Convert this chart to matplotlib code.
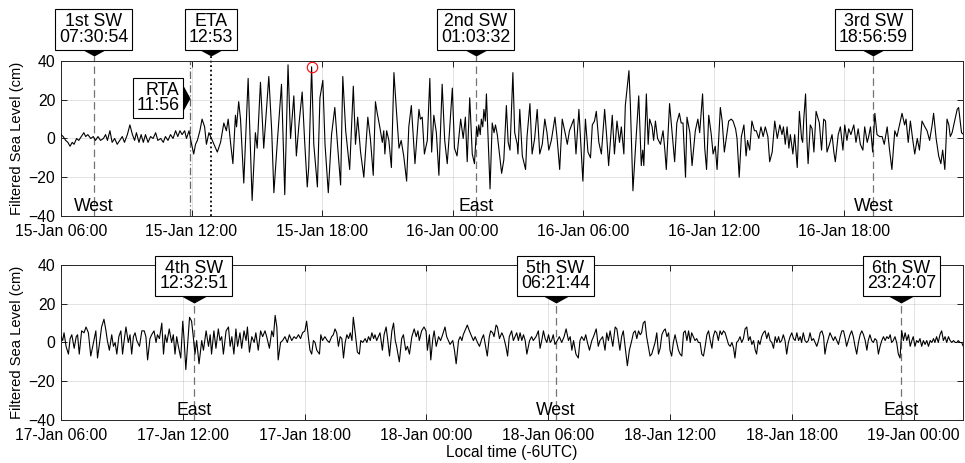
import numpy as np
import matplotlib.pyplot as plt
import matplotlib.dates as mdates
import matplotlib.transforms as mtransforms

plt.rcParams['font.family'] = ['Liberation Sans', 'DejaVu Sans']

# ---------------------------------------------------------------
# filtered sea level: (minutes after panel start, cm)
# ---------------------------------------------------------------
top_start = np.datetime64('2022-01-15T06:00')
top_span_min = 2487
top_obs = [
    (0, 2), (6, 1), (13, -1), (19, -2), (25, -4), (31, -2), (36, -3), (43, 0), (49, -1), (56, 1),
    (63, 3), (68, 1), (74, 2), (82, 0), (89, 1), (95, -1), (102, 1), (109, -1), (117, 0), (123, 2),
    (128, -1), (135, 4), (141, -2), (148, 0), (155, -3), (162, -1), (169, 1), (175, -2), (183, 2), (190, 7),
    (197, 2), (203, -1), (208, 3), (215, -2), (221, 2), (227, -2), (233, 2), (240, -2), (247, 1), (254, 0),
    (261, 3), (267, -1), (275, 0), (282, -2), (288, 1), (295, -1), (302, 2), (309, 0), (316, 4), (322, 1),
    (328, 4), (334, 2), (341, 4), (346, 0), (353, 4), (359, -2), (366, -8), (371, -3), (376, -1), (383, 4),
    (389, 10), (396, 6), (401, -3), (408, 3), (415, 0), (422, -3), (431, -7), (440, -2), (449, 8), (456, 4),
    (461, 10), (468, -3), (474, -13), (481, 12), (484, 6), (490, 19), (495, 10), (504, -23), (516, 31), (527, -32),
    (536, 3), (541, -5), (550, 29), (559, -5), (564, 8), (573, 32), (581, 4), (587, -28), (596, -3), (608, 28),
    (617, -29), (626, 38), (633, 0), (642, 22), (649, -9), (656, 7), (665, 24), (672, -2), (679, -25), (683, -15),
    (691, 37), (697, -3), (707, -25), (714, 21), (722, 30), (728, -3), (737, -28), (746, 2), (755, 16), (762, -2),
    (771, -24), (777, 32), (785, 4), (796, -16), (806, 27), (812, -3), (818, 11), (826, -7), (835, -20), (846, 11),
    (853, 0), (861, -19), (867, 19), (872, 13), (879, 6), (886, -2), (890, 4), (893, -8), (898, 4), (904, -1),
    (911, -15), (918, 34), (925, 14), (932, -5), (938, -1), (945, -9), (953, -22), (959, 6), (966, 17), (976, -13),
    (987, 15), (991, 10), (996, 11), (1002, -8), (1010, -1), (1017, 31), (1022, -7), (1028, 12), (1035, 3), (1042, -19),
    (1051, 28), (1058, -1), (1065, -13), (1071, 3), (1079, 26), (1085, -5), (1092, -9), (1102, 10), (1109, 0), (1115, 11),
    (1120, -12), (1127, 21), (1134, -8), (1140, -13), (1146, 6), (1149, 1), (1152, 7), (1156, 2), (1159, 10), (1163, 6),
    (1166, 15), (1170, 9), (1173, 23), (1183, -26),
    (1189, 8), (1194, 3), (1198, 7), (1203, 2), (1215, -18), (1221, -11), (1228, 17), (1233, -2), (1238, -6), (1246, 34),
    (1251, 3), (1258, -3), (1260, -8), (1265, 15), (1272, -9), (1281, -16), (1285, 1), (1293, 18), (1299, -8), (1306, 0),
    (1313, 15), (1320, -8), (1327, -3), (1334, 10), (1340, 3), (1345, -6), (1352, -1), (1362, 11), (1368, 0), (1375, -16),
    (1382, 10), (1391, 2), (1396, -3), (1402, 4), (1414, 10), (1420, -8), (1428, 15), (1433, -2), (1439, -22), (1446, 10),
    (1453, -7), (1460, -10), (1465, 7), (1471, 9), (1476, 14), (1483, -2), (1490, -8), (1499, 15), (1505, 0), (1510, -14),
    (1520, 12), (1526, -8), (1533, 9), (1540, -2), (1545, 6), (1552, -8), (1556, 17), (1566, 35), (1570, 17), (1577, -27),
    (1584, -5), (1593, 22), (1600, -14), (1604, -6), (1607, -14), (1611, 8), (1614, 23), (1619, -3), (1623, 10), (1630, 6),
    (1634, -1), (1639, 9), (1645, 0), (1653, -3), (1660, 4), (1665, -6), (1669, -16), (1678, 18), (1685, 3), (1692, -12),
    (1698, 8), (1705, 13), (1710, 8), (1715, 8), (1722, -20), (1726, 11), (1734, 3), (1740, -14), (1749, 4), (1756, 10),
    (1761, 3), (1769, 23), (1775, -5), (1780, -16), (1786, 12), (1793, 2), (1798, -8), (1804, -4), (1809, -16), (1818, 16),
    (1823, 9), (1829, -7), (1835, 1), (1841, 9), (1848, 10), (1853, 9), (1860, 5), (1864, 0), (1870, -20), (1876, 1),
    (1883, 7), (1889, -9), (1893, -1), (1899, -6), (1905, 9), (1912, 4), (1917, 4), (1924, 0), (1930, 6), (1936, 1),
    (1942, 6), (1949, 1), (1954, -12), (1961, -7), (1968, 9), (1975, 0), (1982, 7), (1988, 2), (1992, 6), (1997, -3),
    (2002, 6), (2007, -5), (2011, 2), (2018, -8), (2023, 2), (2030, -15), (2036, 14), (2042, 0), (2045, -2), (2048, 10),
    (2053, 23), (2057, -2), (2060, -13), (2066, 7), (2071, 5), (2076, -7), (2082, 14), (2088, 10), (2091, 8), (2097, -6),
    (2103, 10), (2108, 9), (2112, -7), (2119, -3), (2126, 2), (2131, -7), (2135, -12), (2143, 2), (2149, 6), (2156, -6),
    (2161, 7), (2167, -1), (2172, 5), (2178, 2), (2186, 7), (2192, -2), (2198, 5), (2204, -3), (2211, -6), (2216, 6),
    (2223, -2), (2227, 1), (2232, 6), (2238, -7), (2244, 13), (2250, 2), (2257, 1), (2264, 1), (2270, -3), (2278, 6),
    (2284, -5), (2291, -16), (2299, 4), (2305, 1), (2312, 7), (2319, 13), (2326, 7), (2330, 10), (2336, -2), (2342, 9),
    (2348, 0), (2354, -8), (2361, 0), (2367, -6), (2374, 9), (2382, 6), (2388, 4), (2395, -1), (2402, 7), (2406, 13),
    (2413, 0), (2420, -9), (2426, -13), (2431, -6), (2437, -16), (2443, 10), (2448, 7), (2452, 1), (2457, 3), (2464, 9),
    (2471, 15), (2475, 16), (2483, 3), (2489, 2),
]
circled_min = 691   # crest marked with the red circle

bot_start = np.datetime64('2022-01-17T06:00')
bot_span_min = 2666
bot_obs = [
    (0, 3), (5, 1), (9, 5), (15, -2), (22, -6), (27, 2), (32, 4), (39, -3), (45, 3), (49, 4),
    (54, -6), (61, 6), (68, 5), (74, 8), (81, 5), (88, -7), (96, 0), (103, 6), (108, -8), (115, 1),
    (120, 8), (127, 12), (133, 6), (137, 1), (143, -4), (150, 4), (155, -2), (160, 0), (165, -6), (171, 3),
    (177, 6), (182, -6), (186, 0), (192, 8), (199, 0), (204, 4), (209, -6), (214, 3), (219, 5), (224, 1),
    (232, -2), (239, 6), (246, 6), (251, 3), (256, -9), (263, 2), (268, 4), (275, 6), (281, 0), (285, 4),
    (291, 2), (298, 10), (303, -6), (308, 4), (313, 0), (320, 7), (327, 0), (332, 4), (337, -6), (342, 3),
    (347, -2), (354, -8), (360, 11), (364, 1), (369, -14), (375, 1), (380, 13), (386, 11), (391, 3), (396, -6),
    (401, 1), (408, -11), (416, 1), (421, -4), (429, 6), (436, -2), (441, 4), (445, -6), (452, 6), (458, -3),
    (465, 7), (470, 1), (475, 3), (480, -6), (488, 6), (495, 8), (500, -2), (505, 3), (511, -6), (517, 7),
    (522, -2), (529, 5), (534, -3), (541, 6), (547, 1), (551, 8), (557, -5), (564, 3), (571, 0), (576, 5),
    (583, -4), (590, 6), (596, 3), (603, 6), (608, 3), (616, -3), (623, 6), (628, 3), (633, 14), (638, 8),
    (642, -9), (649, 0), (655, 1), (662, 3), (669, 0), (675, 4), (682, 1), (689, 3), (695, 2), (702, 4),
    (708, 2), (714, 5), (721, 6), (726, 11), (731, 3), (736, -4), (741, -6), (746, 1), (751, 0), (756, -4),
    (764, -6), (768, 4), (773, 1), (780, 3), (787, 1), (793, 0), (800, 3), (805, 4), (810, 7), (815, 5),
    (820, -2), (825, 3), (830, 2), (835, -8), (840, 0), (845, 4), (850, 2), (855, 5), (860, 1), (864, 13),
    (869, 6), (876, -5), (882, -6), (886, 1), (892, 0), (899, 2), (904, 0), (909, 3), (914, 1), (919, 5),
    (924, 2), (928, 4), (933, 1), (938, 3), (943, 5), (950, -4), (955, 4), (961, 8), (966, 1), (971, -7),
    (978, 6), (983, 10), (988, 1), (992, -2), (1000, -10), (1007, 2), (1012, 4), (1019, -4), (1024, -2), (1030, -6),
    (1037, 3), (1044, 7), (1050, 3), (1055, 6), (1059, 1), (1066, 6), (1073, 8), (1079, 6), (1083, -4), (1089, 4),
    (1093, -9), (1099, 2), (1103, 6), (1109, -2), (1116, 3), (1122, 1), (1128, 4), (1135, 8), (1140, 3), (1145, 1),
    (1150, -1), (1158, 1), (1163, -4), (1168, -11), (1175, 1), (1180, 3), (1185, 1), (1189, 4), (1196, 7), (1201, 9),
    (1207, 6), (1214, 3), (1219, 1), (1224, 3), (1231, 0), (1237, -2), (1244, 2), (1249, 4), (1255, -2), (1260, -7),
    (1266, 3), (1270, 6), (1276, 5), (1280, 3), (1286, 9), (1290, 8), (1296, 2), (1303, 5), (1308, 3), (1315, -2),
    (1320, -7), (1325, 3), (1332, 6), (1337, 1), (1342, 3), (1347, 5), (1352, 1), (1357, 5), (1362, 1), (1367, 4),
    (1372, 1), (1377, -6), (1385, 1), (1391, 3), (1396, 1), (1404, 3), (1411, 6), (1416, -3), (1421, 1), (1426, 6),
    (1431, 2), (1436, 0), (1441, 4), (1446, 0), (1450, 1), (1455, 4), (1460, -1), (1467, 1), (1473, 3), (1480, 0),
    (1487, 3), (1493, 7), (1500, 1), (1505, 3), (1510, -4), (1515, 1), (1522, -6), (1529, -8), (1534, 1), (1539, 3),
    (1546, 1), (1551, 4), (1556, 0), (1562, -4), (1569, 1), (1574, 3), (1582, 7), (1588, -2), (1593, 1), (1601, 3),
    (1608, -4), (1613, 5), (1618, 1), (1623, 6), (1631, -2), (1638, 8), (1643, 7), (1648, 1), (1652, -4), (1657, 3),
    (1662, 6), (1670, -6), (1674, -12), (1680, -4), (1687, 1), (1692, 5), (1697, 6), (1702, 2), (1707, 6), (1712, 4),
    (1716, 5), (1721, 10), (1726, 11), (1731, 3), (1736, -2), (1741, -7), (1746, -6), (1751, -3), (1756, 0), (1761, 5),
    (1766, -6), (1771, -3), (1776, 4), (1781, 6), (1786, 7), (1791, 3), (1796, 5), (1800, -4), (1805, -7), (1810, 0),
    (1815, 4), (1820, 0), (1825, -4), (1830, -6), (1835, -7), (1840, 5), (1845, 6), (1850, 1), (1855, 6), (1860, 0),
    (1864, 5), (1869, 3), (1874, 1), (1879, 2), (1884, 0), (1889, 0), (1894, -6), (1899, -7), (1904, -2), (1909, 4),
    (1914, 6), (1919, 1), (1924, -3), (1928, 3), (1933, 6), (1938, 5), (1943, 1), (1948, 6), (1953, 4), (1958, 6),
    (1963, 5), (1968, 2), (1973, -1), (1978, -2), (1983, 0), (1988, -3), (1992, -8), (1997, 0), (2002, 1), (2007, 3),
    (2012, 0), (2017, 2), (2022, 7), (2027, 8), (2032, 1), (2037, 3), (2042, -1), (2047, 1), (2052, -4), (2056, -6),
    (2061, 1), (2066, -1), (2071, 3), (2076, 5), (2081, 6), (2086, 2), (2091, 5), (2096, 1), (2101, 0), (2106, -3),
    (2111, 3), (2116, 0), (2121, 3), (2125, 0), (2130, 1), (2135, 4), (2140, 1), (2145, -6), (2150, 0), (2155, 3),
    (2160, 5), (2165, 2), (2170, 1), (2175, 5), (2180, 1), (2185, 3), (2189, 0), (2194, 5), (2199, 1), (2204, 0),
    (2209, 1), (2214, 5), (2219, 1), (2224, 2), (2229, 0), (2234, -2), (2239, 1), (2244, 5), (2249, 6), (2254, 3),
    (2258, -6), (2263, -1), (2268, 2), (2273, 5), (2278, 3), (2283, 1), (2288, 3), (2293, 1), (2298, -1), (2303, 3),
    (2308, 6), (2313, 6), (2318, 2), (2322, -2), (2327, 1), (2332, 4), (2337, 6), (2342, 3), (2347, -2), (2352, -6),
    (2357, 0), (2362, 4), (2367, 6), (2372, 4), (2377, 1), (2382, -4), (2386, 1), (2391, 4), (2396, 1), (2401, 0),
    (2406, 2), (2411, 1), (2416, -6), (2421, -2), (2426, 1), (2431, 3), (2436, 1), (2441, 3), (2446, 2), (2451, 4),
    (2455, 0), (2460, 1), (2465, 3), (2470, 0), (2475, -6), (2480, -8), (2485, 6), (2490, 1), (2495, 5), (2500, 1),
    (2505, 4), (2510, -2), (2515, 1), (2519, 3), (2524, -2), (2529, 1), (2534, 0), (2539, 2), (2544, -2), (2549, 1),
    (2554, -1), (2559, 1), (2564, -2), (2569, 1), (2574, 0), (2579, 2), (2583, 0), (2588, 3), (2593, 0), (2598, 4),
    (2603, 6), (2608, 1), (2613, 3), (2618, 0), (2623, 3), (2628, 1), (2633, 0), (2638, 1), (2643, 0), (2648, 0),
    (2652, 1), (2657, 0), (2662, 0), (2667, -2),
]

# surface wave passages (label, time of marker line, direction)
top_sw_text = ['1st SW\n07:30:54', '2nd SW\n01:03:32', '3rd SW\n18:56:59']
top_sw_time = ['2022-01-15T07:30:54', '2022-01-16T01:03:32', '2022-01-16T19:20:00']
top_sw_dir = ['West', 'East', 'West']
bot_sw_text = ['4th SW\n12:32:51', '5th SW\n06:21:44', '6th SW\n23:24:07']
bot_sw_time = ['2022-01-17T12:32:51', '2022-01-18T06:21:44', '2022-01-18T23:24:07']
bot_sw_dir = ['East', 'West', 'East']
rta_time, rta_text = '2022-01-15T11:56', 'RTA\n11:56'
eta_time, eta_text = '2022-01-15T12:53', 'ETA\n12:53'

# ---------------------------------------------------------------
axis_col = '#262626'
box_fs = 12.8
down_tri = [(-1, 0.55), (1, 0.55), (0, 0)]      # apex at the marker origin
right_tri = [(-0.55, 1), (-0.55, -1), (0, 0)]
tri_ms = 17.3
tri_h = 0.55 * 0.5 * tri_ms
box_pad = 0.22
box_kw = dict(boxstyle='square,pad=%g' % box_pad, fc='white', ec='black', lw=0.8)


def to_times(start, obs):
    mins = np.array([m for m, _ in obs], dtype='timedelta64[m]')
    vals = np.array([v for _, v in obs], dtype=float)
    return start + mins, vals


def style_axes(ax, start, span):
    ax.set_xlim(start, start + np.timedelta64(span, 'm'))
    ax.set_ylim(-40, 40)
    ax.set_yticks([-40, -20, 0, 20, 40])
    ax.xaxis.set_major_locator(mdates.HourLocator(byhour=[0, 6, 12, 18]))
    ax.xaxis.set_major_formatter(mdates.DateFormatter('%d-%b %H:%M'))
    ax.grid(True, color=axis_col, alpha=0.15, lw=0.6)
    ax.tick_params(direction='in', top=True, right=True, length=4, width=0.6,
                   labelsize=11.3, colors='black')
    ax.tick_params(axis='x', pad=5.5)
    ax.tick_params(axis='y', pad=4)
    for sp in ax.spines.values():
        sp.set_color(axis_col)
        sp.set_linewidth(0.7)
    ax.set_ylabel('Filtered Sea Level (cm)', fontsize=10.6, labelpad=3)


def callout_down(ax, when, text, apex_y, direction=None, line_kw=None):
    blend = mtransforms.blended_transform_factory(ax.transData, ax.transAxes)
    x = mdates.date2num(np.datetime64(when))
    kw = dict(color='0.45', lw=0.9, ls=(0, (6, 3.5)))
    if line_kw:
        kw.update(line_kw)
    ax.plot([x, x], [0, apex_y], transform=blend, clip_on=False, zorder=2, **kw)
    ax.plot([x], [apex_y], transform=blend, marker=down_tri, ms=tri_ms,
            color='black', mew=0, clip_on=False, zorder=4)
    ax.annotate(text, xy=(x, apex_y), xycoords=blend,
                xytext=(0, tri_h + box_pad * box_fs), textcoords='offset points',
                ha='center', va='bottom', fontsize=box_fs, linespacing=0.9,
                bbox=box_kw, annotation_clip=False, zorder=5)
    if direction:
        ax.text(x, 0.03, direction, transform=blend, ha='center', va='baseline',
                fontsize=12.7)


fig = plt.figure(figsize=(9.65, 4.63), dpi=100)
ax1 = fig.add_axes([0.0632, 0.5335, 0.9347, 0.3348])
ax2 = fig.add_axes([0.0632, 0.0929, 0.9347, 0.3348])

# top panel
t_top, v_top = to_times(top_start, top_obs)
ax1.plot(t_top, v_top, color='black', lw=0.8, zorder=3)
style_axes(ax1, top_start, top_span_min)
for when, text, d in zip(top_sw_time, top_sw_text, top_sw_dir):
    callout_down(ax1, when, text, 1.029, d)

blend1 = mtransforms.blended_transform_factory(ax1.transData, ax1.transAxes)
x_rta = mdates.date2num(np.datetime64(rta_time))
ax1.axvline(x_rta, color='0.4', lw=0.9, ls=(0, (6, 2, 1, 2)), zorder=2)
ax1.plot([x_rta], [0.761], transform=blend1, marker=right_tri, ms=tri_ms,
         color='black', mew=0, clip_on=False, zorder=4)
ax1.annotate(rta_text, xy=(x_rta, 0.761), xycoords=blend1,
             xytext=(-(0.275 * tri_ms + box_pad * box_fs), 0), textcoords='offset points',
             ha='right', va='center', fontsize=box_fs, linespacing=0.9,
             bbox=box_kw, zorder=5)

callout_down(ax1, eta_time, eta_text, 1.029,
             line_kw=dict(color='black', lw=1.3, ls=(0, (1, 1.5))))

# marked crest
k = [m for m, _ in top_obs].index(circled_min)
ax1.plot(t_top[k], v_top[k], 'o', mfc='none', mec='red', ms=7.5, mew=0.8, zorder=4)

# bottom panel
t_bot, v_bot = to_times(bot_start, bot_obs)
ax2.plot(t_bot, v_bot, color='black', lw=0.8, zorder=3)
style_axes(ax2, bot_start, bot_span_min)
for when, text, d in zip(bot_sw_time, bot_sw_text, bot_sw_dir):
    callout_down(ax2, when, text, 0.755, d)
ax2.set_xlabel('Local time (-6UTC)', fontsize=11.2, labelpad=2)

fig.savefig('out.png', dpi=100)
